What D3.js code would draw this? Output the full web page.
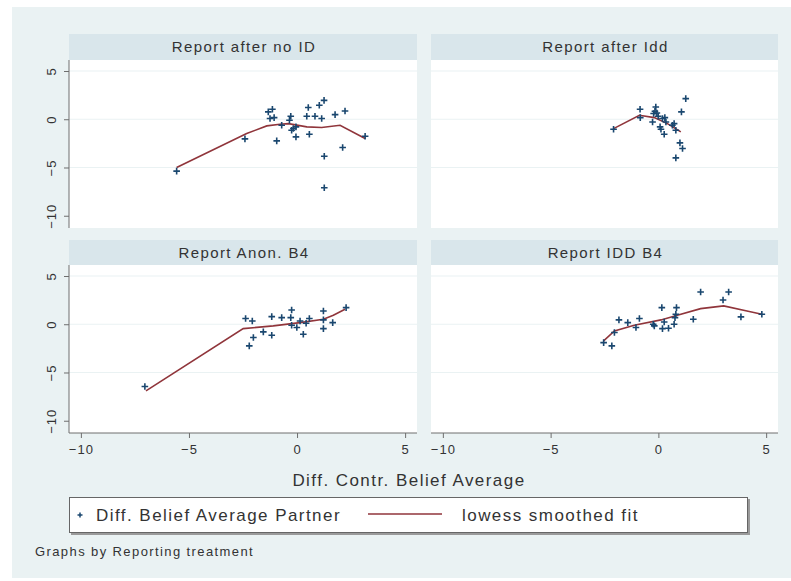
<!DOCTYPE html>
<html>
<head>
<meta charset="utf-8">
<script src="https://cdn.jsdelivr.net/npm/d3@7"></script>
<style>
  body { margin: 0; background: #ffffff; }
  svg { display: block; font-family: "Liberation Sans", Arial, sans-serif; }
</style>
</head>
<body>
<div id="chart"></div>
<script>
// Stata-style 2x2 by() scatter + lowess
var panelTitles = ['Report after no ID', 'Report after Idd', 'Report Anon. B4', 'Report IDD B4'];
var xTicks = [-10, -5, 0, 5];
var yTicks = [5, 0, -5, -10];
var xTitle = 'Diff. Contr. Belief Average';
var legendLabels = ['Diff. Belief Average Partner', 'lowess smoothed fit'];
var noteText = 'Graphs by Reporting treatment';

// panel 1: Report after no ID
var p1X = [-5.57, -2.41, -1.33, -1.25, -1.06, -1.14, -0.94, -0.71, -0.35, -0.29, -0.25, -0.17, -0.05, -0.05, 0.45, 0.52, 0.57, 0.83, 1.03, 1.14, 1.25, 1.26, 1.26, 1.76, 2.11, 2.22, 3.15];
var p1Y = [-5.38, -2.03, 0.76, 0.07, 0.17, 1.03, -2.24, -0.62, -0.10, 0.31, -1.14, -0.96, -0.79, -1.83, 0.31, 1.21, -1.55, 0.31, 1.45, 0.07, 1.96, -3.83, -7.1, 0.48, -2.93, 0.86, -1.76];
var fit1X = [-5.57, -2.33, -1.40, -0.79, -0.40, 0.45, 1.14, 1.99, 3.15];
var fit1Y = [-5.0, -1.48, -0.69, -0.52, -0.45, -0.79, -0.86, -0.62, -2.0];

// panel 2: Report after Idd
var p2X = [-2.08, -0.85, -0.84, -0.27, -0.22, -0.16, -0.12, -0.07, -0.01, 0.08, 0.12, 0.19, 0.30, 0.27, 0.35, 0.65, 0.73, 0.81, 1.0, 1.12, 0.81, 1.07, 1.27];
var p2Y = [-1.03, 1.03, 0.17, -0.28, 0.59, 0.83, 1.27, 0.65, 0.31, -0.79, -1.03, 0.07, 0.17, -1.55, -0.28, -0.62, -0.45, -1.14, -2.45, -3.03, -4.0, 0.76, 2.14];
var fit2X = [-2.08, -0.88, -0.19, 0.42, 1.04];
var fit2Y = [-0.97, 0.41, 0.17, -0.45, -1.31];

// panel 3: Report Anon. B4
var p3X = [-7.04, -2.38, -2.07, -2.02, -2.21, -1.56, -1.17, -1.17, -0.71, -0.25, -0.29, -0.25, -0.01, 0.14, 0.29, 0.42, 0.57, 1.22, 1.22, 1.22, 1.65, 2.27];
var p3Y = [-6.45, 0.59, 0.34, -1.38, -2.24, -0.79, 0.79, -1.14, 0.69, 1.48, 0.69, -0.10, -0.34, 0.34, -1.03, 0.10, 0.59, 1.38, 0.45, -0.45, 0.17, 1.72];
var fit3X = [-6.99, -2.49, -1.10, 0.14, 1.22, 1.68, 2.22];
var fit3Y = [-6.9, -0.45, -0.17, 0.17, 0.52, 0.93, 1.55];

// panel 4: Report IDD B4
var p4X = [-2.54, -2.16, -2.04, -1.83, -1.42, -1.04, -0.88, -0.24, -0.19, 0.16, 0.19, 0.27, 0.47, 0.73, 0.77, 0.81, 0.84, 1.62, 1.96, 3.0, 3.26, 3.83, 4.8];
var p4Y = [-1.90, -2.24, -0.86, 0.45, 0.17, -0.34, 0.59, 0.0, -0.17, 1.72, -0.45, 0.24, -0.41, 0.0, 0.69, 1.03, 1.72, 0.52, 3.34, 2.52, 3.34, 0.76, 1.03];
var fit4X = [-2.54, -2.04, -1.12, 0.12, 0.88, 1.96, 3.03, 4.11, 4.8];
var fit4Y = [-1.72, -0.69, -0.10, 0.45, 0.93, 1.62, 1.90, 1.38, 1.03];

var pointsX = [p1X, p2X, p3X, p4X];
var pointsY = [p1Y, p2Y, p3Y, p4Y];
var fitsX = [fit1X, fit2X, fit3X, fit4X];
var fitsY = [fit1Y, fit2Y, fit3Y, fit4Y];

(function(){
  var W = 791, H = 581;
  var colBg = '#eaf2f3', colStrip = '#d9e6eb', colMarker = '#1a476f', colFit = '#90353b', colText = '#333333', colAxis = '#6e6e6e';
  var cols = [[69, 417], [431, 778]];
  var rows = [{ head: 34, top: 60, bottom: 228 }, { head: 240, top: 265, bottom: 433 }];

  var svg = d3.select('#chart').append('svg').attr('width', W).attr('height', H);

  // graph region
  svg.append('rect').attr('x', 12).attr('y', 7).attr('width', W - 12).attr('height', 571).attr('fill', colBg);

  function fmt(d){ return d < 0 ? '\u2212' + Math.abs(d) : String(d); }

  panelTitles.forEach(function(title, i){
    var c = cols[i % 2], r = rows[Math.floor(i / 2)];
    var x = d3.scaleLinear().domain([-10.55, 5.55]).range(c);
    var y = d3.scaleLinear().domain([-11.27, 6.14]).range([r.bottom, r.top]);
    var g = svg.append('g');

    // strip
    g.append('rect').attr('x', c[0]).attr('y', r.head).attr('width', c[1] - c[0]).attr('height', r.top - r.head).attr('fill', colStrip);
    g.append('text')
      .attr('x', (c[0] + c[1]) / 2 + 1).attr('y', (r.head + r.top) / 2 + 5)
      .attr('text-anchor', 'middle').style('font-size', '15px').style('letter-spacing', '1.4px').style('fill', colText)
      .text(title);

    // plot region
    g.append('rect').attr('x', c[0]).attr('y', r.top).attr('width', c[1] - c[0]).attr('height', r.bottom - r.top).attr('fill', '#ffffff');

    // gridlines
    g.selectAll('.grid').data([5, 0, -5]).enter().append('line')
      .attr('x1', c[0]).attr('x2', c[1])
      .attr('y1', function(d){ return y(d); }).attr('y2', function(d){ return y(d); })
      .attr('stroke', colBg).attr('stroke-width', 1.2);

    // lowess fit
    var fit = d3.range(fitsX[i].length).map(function(k){ return [fitsX[i][k], fitsY[i][k]]; });
    g.append('path').datum(fit)
      .attr('d', d3.line().x(function(d){ return x(d[0]); }).y(function(d){ return y(d[1]); }))
      .attr('fill', 'none').attr('stroke', colFit).attr('stroke-width', 1.6);

    // markers
    var pts = d3.range(pointsX[i].length).map(function(k){ return [pointsX[i][k], pointsY[i][k]]; });
    g.selectAll('.pt').data(pts).enter().append('path')
      .attr('class', 'pt')
      .attr('transform', function(d){ return 'translate(' + x(d[0]) + ',' + y(d[1]) + ')'; })
      .attr('d', 'M-3.3,0H3.3M0,-3.3V3.3')
      .attr('stroke', colMarker).attr('stroke-width', 1.6).attr('fill', 'none');

    // y axis on left column
    if (i % 2 === 0){
      var ay = g.append('g').attr('transform', 'translate(' + c[0] + ',0)')
        .call(d3.axisLeft(y).tickValues(yTicks).tickSize(5).tickSizeOuter(0).tickFormat(fmt));
      ay.select('.domain').attr('stroke', colAxis).attr('d', 'M0,' + r.top + 'V' + r.bottom);
      ay.selectAll('line').attr('stroke', colAxis);
      ay.selectAll('text')
        .attr('transform', 'rotate(-90)')
        .attr('x', 0).attr('y', -13).attr('dy', 0)
        .attr('text-anchor', 'middle')
        .style('font-size', '13px').style('letter-spacing', '1px').style('fill', colText).style('font-family', 'inherit');
    }
    // x axis on bottom row
    if (i >= 2){
      var ax = g.append('g').attr('transform', 'translate(0,' + r.bottom + ')')
        .call(d3.axisBottom(x).tickValues(xTicks).tickSize(5).tickSizeOuter(0).tickFormat(fmt));
      ax.select('.domain').attr('stroke', colAxis).attr('d', 'M' + c[0] + ',0H' + c[1]);
      ax.selectAll('line').attr('stroke', colAxis);
      ax.selectAll('text')
        .attr('y', 21).attr('dy', 0)
        .style('font-size', '13px').style('letter-spacing', '1px').style('fill', colText).style('font-family', 'inherit');
    }
  });

  // x axis title
  svg.append('text').attr('x', 409).attr('y', 486).attr('text-anchor', 'middle')
    .style('font-size', '17px').style('letter-spacing', '1.45px').style('fill', colText).text(xTitle);

  // legend
  var lg = svg.append('g');
  lg.append('rect').attr('x', 71).attr('y', 499).attr('width', 679).attr('height', 36).attr('fill', '#9a9a9a');
  lg.append('rect').attr('x', 69.5).attr('y', 497.5).attr('width', 678).attr('height', 35)
    .attr('fill', '#ffffff').attr('stroke', '#666666').attr('stroke-width', 1);
  lg.append('path').attr('transform', 'translate(80,515)').attr('d', 'M-2.5,0H2.5M0,-2.5V2.5')
    .attr('stroke', colMarker).attr('stroke-width', 1.5);
  lg.append('text').attr('x', 96).attr('y', 521).style('font-size', '17px').style('letter-spacing', '1.45px').style('fill', colText).text(legendLabels[0]);
  lg.append('line').attr('x1', 368).attr('x2', 442).attr('y1', 514).attr('y2', 514)
    .attr('stroke', colFit).attr('stroke-width', 1.6);
  lg.append('text').attr('x', 462).attr('y', 521).style('font-size', '17px').style('letter-spacing', '1.45px').style('fill', colText).text(legendLabels[1]);

  // note
  svg.append('text').attr('x', 35).attr('y', 556).style('font-size', '13px').style('letter-spacing', '1.4px').style('fill', colText).text(noteText);
})();
</script>
</body>
</html>
